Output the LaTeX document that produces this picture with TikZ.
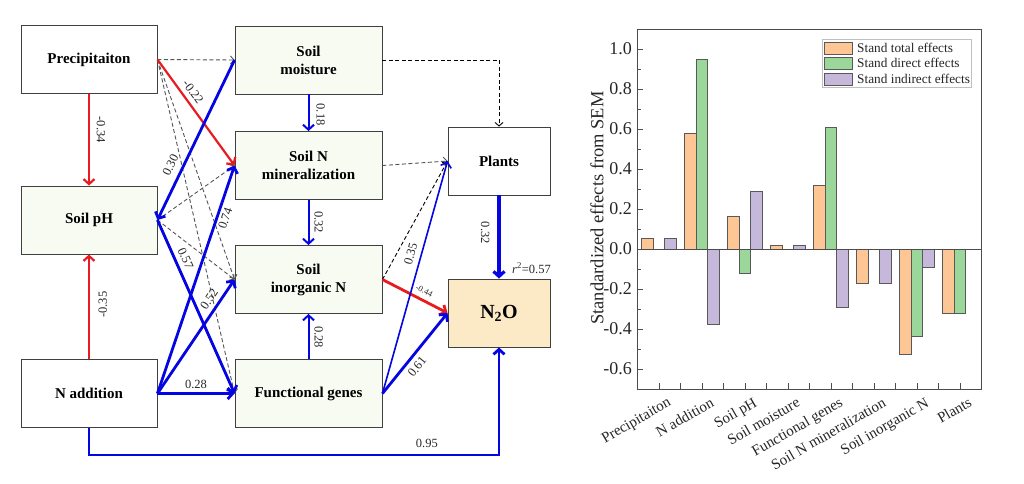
\documentclass[tikz,border=0pt]{standalone}
\usepackage{fontspec}
\setmainfont{Liberation Serif}
\usetikzlibrary{arrows.meta, positioning}

\definecolor{pathblue}{RGB}{5,5,225}
\definecolor{pathred}{RGB}{232,28,32}
\definecolor{nsgray}{RGB}{85,85,85}
\definecolor{glowfill}{RGB}{247,251,242}
\definecolor{noxfill}{RGB}{252,233,198}
\definecolor{totalfill}{RGB}{253,198,148}
\definecolor{directfill}{RGB}{155,214,155}
\definecolor{indirectfill}{RGB}{197,184,218}

\tikzset{
  var/.style={draw=black!75, line width=0.9pt, minimum width=136pt, minimum height=68pt,
    fill=white, align=center, font=\bfseries\fontsize{15}{18}\selectfont},
  glow/.style={fill=glowfill},
  blueline/.style={draw=pathblue, line width=2.8pt, -{Straight Barb[length=5pt,width=11pt]}},
  redline/.style={draw=pathred, line width=2.2pt, -{Straight Barb[length=5pt,width=11pt]}},
  nsline/.style={draw=nsgray, line width=0.9pt, dash pattern=on 4pt off 2.5pt,
    -{Straight Barb[length=3.5pt,width=8pt]}},
  coef/.style={font=\fontsize{12.5}{14}\selectfont, text=black!85, inner sep=1.5pt},
  axisline/.style={draw=black!70, line width=1pt},
  totalbar/.style={fill=totalfill, draw=black!65, line width=0.8pt},
  directbar/.style={fill=directfill, draw=black!65, line width=0.8pt},
  indirectbar/.style={fill=indirectfill, draw=black!65, line width=0.8pt},
  ticklabel/.style={font=\fontsize{18}{20}\selectfont, text=black!85, inner sep=1pt},
  catlabel/.style={font=\fontsize{15}{17}\selectfont, text=black!85, inner sep=1pt},
  legtext/.style={font=\fontsize{13.3}{15}\selectfont, text=black!85, inner sep=1pt}
}

\begin{document}
\begin{tikzpicture}[x=1pt, y=-1pt]
\useasboundingbox (0,0) rectangle (1024,483);

%Variables
\node[var] (prec) at (89,59.5) {Precipitaiton};
\node[var, glow] (ph) at (89,220) {Soil pH};
\node[var] (nadd) at (89,393.5) {N addition};
\node[var, glow, minimum width=147pt] (moist) at (308.5,60) {Soil\\moisture};
\node[var, glow, minimum width=147pt] (minz) at (308.5,165.5) {Soil N\\mineralization};
\node[var, glow, minimum width=147pt] (inorg) at (308.5,279.5) {Soil\\inorganic N};
\node[var, glow, minimum width=147pt] (func) at (308.5,393.5) {Functional genes};
\node[var, minimum width=102pt] (plants) at (499,161) {Plants};
\node[var, minimum width=102pt, fill=noxfill, font=\bfseries\fontsize{20}{22}\selectfont] (nox) at (499,313) {N\textsubscript{2}O};

%Non-significant paths
\draw[nsline] (prec.east) -- (moist.west);
\draw[nsline] (prec.east) -- (inorg.west);
\draw[nsline] (prec.east) -- (func.west);
\draw[nsline] (ph.east) -- (minz.west);
\draw[nsline] (ph.east) -- (inorg.west);
\draw[nsline] (minz.east) -- (plants.west);
\draw[nsline, draw=black] (inorg.east) -- (plants.west);
\draw[nsline, draw=black] (moist.east) -| (plants.north);

%Negative paths
\draw[redline] (prec.south) -- node[coef, pos=0.39, rotate=-90, anchor=south, inner sep=6.5pt] {-0.34} (ph.north);
\draw[redline] (nadd.north) -- node[coef, pos=0.52, rotate=90, anchor=north, inner sep=8.5pt] {-0.35} (ph.south);
\draw[redline] (prec.east) -- node[coef, pos=0.36, sloped, above=3pt] {-0.22} (minz.west);
\draw[redline, line width=2.8pt] (inorg.east) -- node[coef, pos=0.58, sloped, above=3pt, font=\fontsize{8.5}{10}\selectfont] {-0.44} (nox.west);

%Positive paths
\draw[blueline] (moist.west) -- node[coef, pos=0.69, sloped, above=5pt] {0.30} (ph.east);
\draw[blueline] (ph.east) -- node[coef, pos=0.245, sloped, above=3pt] {0.57} (func.west);
\draw[blueline] (nadd.east) -- node[coef, pos=0.78, sloped, below=1pt] {0.74} (minz.west);
\draw[blueline] (nadd.east) -- node[coef, pos=0.78, sloped, above=3pt] {0.52} (inorg.west);
\draw[blueline] (nadd.east) -- node[coef, midway, above=2pt] {0.28} (func.west);
\draw[blueline, line width=2pt] (moist.south) -- node[coef, pos=0.55, rotate=-90, anchor=south, inner sep=7pt] {0.18} (minz.north);
\draw[blueline, line width=2pt] (minz.south) -- node[coef, pos=0.49, rotate=-90, anchor=south, inner sep=5pt] {0.32} (inorg.north);
\draw[blueline, line width=2pt] (func.north) -- node[coef, pos=0.49, rotate=-90, anchor=south, inner sep=5pt] {0.28} (inorg.south);
\draw[blueline, line width=1.6pt] (func.east) -- node[coef, pos=0.59, sloped, above=4pt] {0.35} (plants.west);
\draw[blueline] (func.east) -- node[coef, pos=0.41, sloped, below=3pt] {0.61} (nox.west);
\draw[blueline, line width=3.2pt] (plants.south) -- node[coef, pos=0.45, rotate=-90, anchor=north, inner sep=8pt] {0.32}
  (nox.north) node[coef, anchor=south west, xshift=10pt, yshift=2pt] (rsq) {\textit{r}\textsuperscript{2}=0.57};
\draw[blueline] (nadd.south) -- ++(0,27) -| node[coef, pos=0.412, above=4pt] {0.95} (nox.south);

%Effects chart
\begin{scope}[shift={(659,249)}, y=200pt]
\draw[axisline] (-21.5,-0.7) rectangle (322.5,1.1);
\foreach \v in {1.0,0.8,0.6,0.4,0.2,0.0,-0.2,-0.4,-0.6} {
  \draw[axisline] (-21.5,\v) -- ++(5,0);
  \node[ticklabel, anchor=east] at (-26,\v) {\v};
}
\foreach \v in {0.9,0.7,0.5,0.3,0.1,-0.1,-0.3,-0.5}
  \draw[axisline] (-21.5,\v) -- ++(3,0);
\foreach \k in {1,...,15}
  \draw[axisline] (-21.5+21.5*\k,-0.7) -- ++(0,0.028);
\node[font=\fontsize{18.5}{20}\selectfont, text=black!85, rotate=90] (ylab) at (-62,0.205) {Standardized effects from SEM};

%Bars
\draw[totalbar] (-17.5,0) rectangle (-5.8,0.053);
\draw[indirectbar] (5.8,0) rectangle (17.5,0.053);
\draw[totalbar] (25.5,0) rectangle (37.2,0.58);
\draw[directbar] (37.2,0) rectangle (48.8,0.948);
\draw[indirectbar] (48.8,0) rectangle (60.5,-0.375);
\draw[totalbar] (68.5,0) rectangle (80.2,0.165);
\draw[directbar] (80.2,0) rectangle (91.8,-0.12);
\draw[indirectbar] (91.8,0) rectangle (103.5,0.287);
\draw[totalbar] (111.5,0) rectangle (123.2,0.018);
\draw[indirectbar] (134.8,0) rectangle (146.5,0.018);
\draw[totalbar] (154.5,0) rectangle (166.2,0.317);
\draw[directbar] (166.2,0) rectangle (177.8,0.607);
\draw[indirectbar] (177.8,0) rectangle (189.5,-0.29);
\draw[totalbar] (197.5,0) rectangle (209.2,-0.173);
\draw[indirectbar] (220.8,0) rectangle (232.5,-0.173);
\draw[totalbar] (240.5,0) rectangle (252.2,-0.527);
\draw[directbar] (252.2,0) rectangle (263.8,-0.438);
\draw[indirectbar] (263.8,0) rectangle (275.5,-0.092);
\draw[totalbar] (283.5,0) rectangle (295.2,-0.323);
\draw[directbar] (295.2,0) rectangle (306.8,-0.323);
\draw[axisline] (-21.5,0) -- (322.5,0);

%Categories
\node[catlabel, anchor=north east, rotate=30] (c1) at (8,-0.73) {Precipitaiton};
\node[catlabel, anchor=north east, rotate=30] (c2) at (51,-0.73) {N addition};
\node[catlabel, anchor=north east, rotate=30] (c3) at (94,-0.73) {Soil pH};
\node[catlabel, anchor=north east, rotate=30] (c4) at (137,-0.73) {Soil moisture};
\node[catlabel, anchor=north east, rotate=30] (c5) at (180,-0.73) {Functional genes};
\node[catlabel, anchor=north east, rotate=30] (c6) at (223,-0.73) {Soil N mineralization};
\node[catlabel, anchor=north east, rotate=30] (c7) at (266,-0.73) {Soil inorganic N};
\node[catlabel, anchor=north east, rotate=30] (c8) at (309,-0.73) {Plants};

%Legend
\draw[draw=black!25, fill=white] (163,1.05) rectangle (312,0.81);
\draw[totalbar] (165,1.035) rectangle (193,0.975);
\draw[directbar] (165,0.96) rectangle (193,0.90);
\draw[indirectbar] (165,0.88) rectangle (193,0.82);
\node[legtext, anchor=west] (l1) at (197,1.005) {Stand total effects};
\node[legtext, anchor=west] (l2) at (197,0.93) {Stand direct effects};
\node[legtext, anchor=west] (l3) at (197,0.85) {Stand indirect effects};
\end{scope}
\end{tikzpicture}
\end{document}
